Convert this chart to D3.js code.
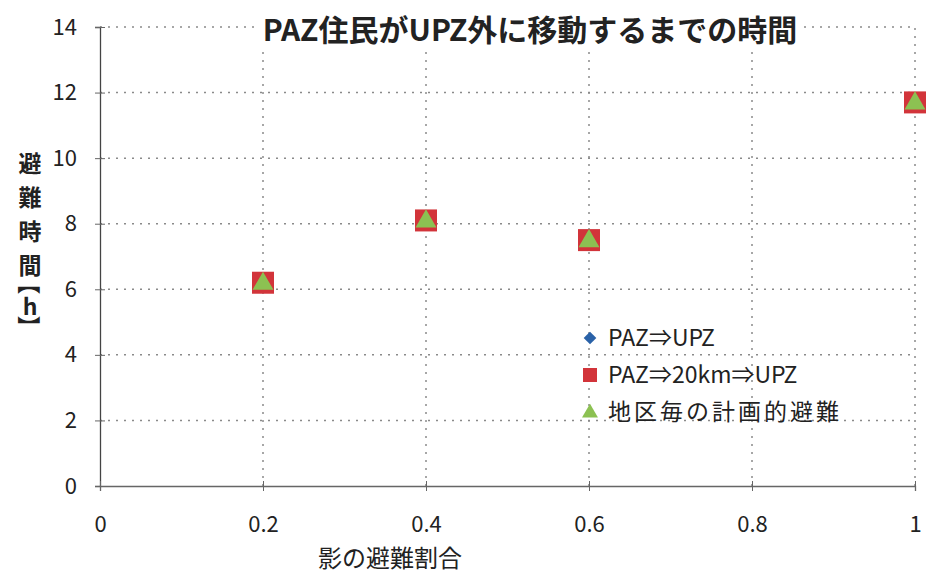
<!DOCTYPE html>
<html>
<head>
<meta charset="utf-8">
<script src="https://cdn.jsdelivr.net/npm/d3@7"></script>
<style>
  body { margin: 0; background: #fff; }
  text { font-family: "Noto Sans CJK JP", "Noto Sans", sans-serif; }
</style>
</head>
<body>
<div id="chart"></div>
<script>
(function(){

const width = 926;
const height = 573;

// data
const ratios = [0.2, 0.4, 0.6, 1.0];
const pazUpz = [6.2, 8.1, 7.5, 11.7];
const paz20Upz = [6.2, 8.1, 7.5, 11.7];
const planned = [6.2, 8.1, 7.5, 11.7];
const seriesNames = ["PAZ⇒UPZ", "PAZ⇒20km⇒UPZ", "地区毎の計画的避難"];
const xTicks = [0, 0.2, 0.4, 0.6, 0.8, 1];
const yTicks = [0, 2, 4, 6, 8, 10, 12, 14];
const yLabelChars = ["避", "難", "時", "間", "【", "h", "】"];

const svg = d3.select("#chart")
  .append("svg")
  .attr("width", width)
  .attr("height", height);

svg.append("rect").attr("width", width).attr("height", height).attr("fill", "#fff");

// X scale
const x = d3.scaleLinear()
  .domain([0, 1])
  .range([100, 915]);

// Y scale
const y = d3.scaleLinear()
  .domain([0, 14])
  .range([486, 27]);

// grid lines
svg.append("g")
  .selectAll("line")
  .data(yTicks.filter(d => d > 0))
  .enter()
  .append("line")
  .attr("x1", x(0))
  .attr("x2", x(1))
  .attr("y1", d => y(d))
  .attr("y2", d => y(d))
  .attr("stroke", "#8a8a8a")
  .attr("stroke-width", 1.5)
  .attr("stroke-dasharray", "2,6");

svg.append("g")
  .selectAll("line")
  .data(xTicks.filter(d => d > 0))
  .enter()
  .append("line")
  .attr("x1", d => x(d))
  .attr("x2", d => x(d))
  .attr("y1", y(0))
  .attr("y2", y(14))
  .attr("stroke", "#8a8a8a")
  .attr("stroke-width", 1.5)
  .attr("stroke-dasharray", "2,6");

// Y axis
const yAxis = svg.append("g")
  .attr("transform", `translate(${x(0)},0)`)
  .call(d3.axisLeft(y).tickValues(yTicks).tickSize(5).tickPadding(18));
yAxis.select(".domain").attr("stroke", "#444").attr("stroke-width", 1.3);
yAxis.selectAll(".tick line").attr("stroke", "#666").attr("x2", 5).attr("x1", -5);
yAxis.selectAll("text")
  .style("font-size", "22px")
  .attr("fill", "#222");

// X axis
const xAxis = svg.append("g")
  .attr("transform", `translate(0,${y(0)})`)
  .call(d3.axisBottom(x).tickValues(xTicks).tickSize(5).tickPadding(25).tickFormat(d3.format("")));
xAxis.select(".domain").attr("stroke", "#666").attr("stroke-width", 1.3);
xAxis.selectAll(".tick line").attr("stroke", "#666").attr("y1", -5).attr("y2", 5);
xAxis.selectAll("text")
  .style("font-size", "22px")
  .attr("fill", "#222");

// title with white backing over the top grid line
const titleG = svg.append("g");
const title = titleG.append("text")
  .attr("x", 530)
  .attr("y", 41)
  .attr("text-anchor", "middle")
  .style("font-size", "30px")
  .style("font-weight", "bold")
  .attr("fill", "#222")
  .text("PAZ住民がUPZ外に移動するまでの時間");
const tb = title.node().getBBox();
titleG.insert("rect", "text")
  .attr("x", tb.x - 4)
  .attr("y", tb.y)
  .attr("width", tb.width + 8)
  .attr("height", tb.height)
  .attr("fill", "#fff");

// axis labels
svg.append("text")
  .attr("x", 390)
  .attr("y", 567)
  .attr("text-anchor", "middle")
  .style("font-size", "24px")
  .attr("fill", "#222")
  .text("影の避難割合");

// vertical y label, one glyph per line, brackets turned
const yLabelPos = [162, 196, 230, 264, 283, 305, 327];
const yLabel = svg.append("g")
  .selectAll("g")
  .data(yLabelChars)
  .enter()
  .append("g")
  .attr("transform", (d, i) => `translate(30,${yLabelPos[i]})`);

yLabel.append("text")
  .attr("text-anchor", "middle")
  .attr("dominant-baseline", "central")
  .attr("transform", d => (d === "【" || d === "】") ? "rotate(90)" : null)
  .style("font-size", "23px")
  .style("font-weight", "bold")
  .attr("fill", "#222")
  .text(d => d);

// markers
const square = d3.symbol().type(d3.symbolSquare);
const triangle = d3.symbol().type(d3.symbolTriangle).size(190);

svg.append("g")
  .selectAll("path")
  .data(ratios.map((r, i) => [r, pazUpz[i]]))
  .enter()
  .append("path")
  .attr("d", square.size(160))
  .attr("transform", d => `translate(${x(d[0])},${y(d[1])}) rotate(45)`)
  .attr("fill", "#2a62a8");

svg.append("g")
  .selectAll("rect")
  .data(ratios.map((r, i) => [r, paz20Upz[i]]))
  .enter()
  .append("rect")
  .attr("x", d => x(d[0]) - 11)
  .attr("y", d => y(d[1]) - 11)
  .attr("width", 22)
  .attr("height", 22)
  .attr("fill", "#d2343a");

svg.append("g")
  .selectAll("path")
  .data(ratios.map((r, i) => [r, planned[i]]))
  .enter()
  .append("path")
  .attr("d", triangle)
  .attr("transform", d => `translate(${x(d[0])},${y(d[1]) + 1})`)
  .attr("fill", "#8cc152");

// legend
const legend = svg.append("g")
  .attr("transform", "translate(590, 338)");

const rows = legend.selectAll("g")
  .data(seriesNames)
  .enter()
  .append("g")
  .attr("transform", (d, i) => `translate(0, ${[0, 37, 74][i]})`);

rows.filter((d, i) => i === 0).append("path")
  .attr("d", d3.symbol().type(d3.symbolSquare).size(80))
  .attr("transform", "rotate(45)")
  .attr("fill", "#2a62a8");
rows.filter((d, i) => i === 1).append("rect")
  .attr("x", -7).attr("y", -7).attr("width", 14).attr("height", 14)
  .attr("fill", "#d2343a");
rows.filter((d, i) => i === 2).append("path")
  .attr("d", d3.symbol().type(d3.symbolTriangle).size(110))
  .attr("transform", "translate(0,1)")
  .attr("fill", "#8cc152");

rows.append("text")
  .attr("x", 18)
  .attr("y", 8)
  .style("font-size", "23px")
  .style("letter-spacing", (d, i) => i === 2 ? "3px" : "0px")
  .attr("fill", "#222")
  .text(d => d);

})();
</script>
</body>
</html>
